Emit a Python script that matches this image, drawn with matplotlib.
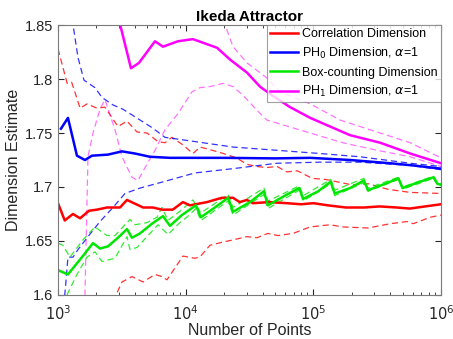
import numpy as np
import matplotlib
matplotlib.use("Agg")
import matplotlib.pyplot as plt
from matplotlib.ticker import LogLocator, NullFormatter

plt.rcParams['font.family'] = ['Liberation Sans', 'DejaVu Sans']

# ---- correlation dimension (red)
corr_n = [1000, 1130, 1310, 1490, 1750, 2020, 2420, 3060, 3470, 4640, 5550, 6520, 7920,
          9520, 10800, 14700, 19200, 23500, 26500, 30200, 33600, 45000, 62000, 80000,
          100000, 130000, 180000, 250000, 330000, 450000, 570000, 750000, 1000000]
corr_mid = [1.685, 1.669, 1.675, 1.671, 1.678, 1.679, 1.681, 1.681, 1.688, 1.681, 1.681,
            1.679, 1.679, 1.686, 1.683, 1.686, 1.690, 1.690, 1.686, 1.688, 1.685, 1.686,
            1.685, 1.684, 1.685, 1.683, 1.681, 1.681, 1.682, 1.681, 1.680, 1.682, 1.684]
corr_hi_n = [1000, 1180, 1280, 1490, 1690, 2020, 2330, 2950, 3470, 4160, 4980, 6080, 6890,
             7800, 9520, 11400, 13000, 18600, 25000, 30200, 36000, 43000, 52000, 62000,
             75000, 98000, 125000, 200000, 270000, 380000, 570000, 1000000]
corr_hi = [1.828, 1.796, 1.797, 1.773, 1.777, 1.773, 1.774, 1.756, 1.761, 1.751, 1.750,
           1.742, 1.741, 1.746, 1.739, 1.731, 1.737, 1.732, 1.727, 1.721, 1.719, 1.718,
           1.719, 1.714, 1.715, 1.708, 1.707, 1.702, 1.703, 1.698, 1.695, 1.694]
corr_lo_n = [2700, 2850, 3170, 3800, 4640, 5750, 6520, 7140, 9520, 11800, 12900, 15500,
             19600, 23500, 30200, 36200, 44100, 52800, 69400, 94600, 135000, 170000,
             268000, 401000, 543000, 606000, 827000, 1000000]
corr_lo = [1.594, 1.600, 1.612, 1.617, 1.612, 1.619, 1.617, 1.614, 1.636, 1.634, 1.635,
           1.646, 1.649, 1.651, 1.654, 1.653, 1.657, 1.655, 1.657, 1.663, 1.665, 1.663,
           1.662, 1.666, 1.668, 1.666, 1.672, 1.674]

# ---- PH0 dimension (blue)
ph0_n = [1055, 1197, 1408, 1627, 1846, 2464, 3172, 4012, 5259, 7539, 10800, 20000, 50000,
         94600, 194000, 400000, 600000, 1000000]
ph0_mid = [1.754, 1.764, 1.729, 1.725, 1.729, 1.730, 1.733, 1.731, 1.728, 1.727, 1.727,
           1.727, 1.7265, 1.727, 1.725, 1.722, 1.720, 1.717]
ph0_hi_n = [1290, 1434, 1598, 1949, 2211, 2697, 3230, 4012, 5452, 6888, 10410, 23500,
            51900, 113000, 232000, 574000, 1000000]
ph0_hi = [1.856, 1.820, 1.799, 1.792, 1.783, 1.776, 1.772, 1.765, 1.755, 1.746, 1.743,
          1.737, 1.734, 1.731, 1.728, 1.722, 1.719]
ph0_lo_n = [1110, 1150, 1197, 1311, 1434, 1718, 2133, 2697, 3348, 4390, 6300, 11800,
            23500, 51900, 113000, 232000, 574000, 1000000]
ph0_lo = [1.590, 1.610, 1.635, 1.635, 1.642, 1.654, 1.668, 1.681, 1.694, 1.699, 1.704,
          1.713, 1.717, 1.722, 1.723, 1.723, 1.720, 1.716]

# ---- box-counting dimension (green)
box_n = [1000, 1197, 1541, 1880, 2133, 2464, 2951, 3471, 3800, 4390, 5452, 6643, 7539,
         9350, 12030, 13160, 16950, 21500, 23500, 31900, 41000, 44100, 60000, 77500,
         83400, 109000, 137000, 147000, 194000, 249000, 268000, 366000, 464000, 500000,
         689000, 874000, 938000, 1000000]
box_mid = [1.623, 1.619, 1.635, 1.648, 1.643, 1.645, 1.653, 1.661, 1.653, 1.657, 1.666,
           1.673, 1.664, 1.674, 1.683, 1.672, 1.681, 1.690, 1.677, 1.686, 1.696, 1.683,
           1.692, 1.699, 1.689, 1.696, 1.705, 1.694, 1.699, 1.706, 1.697, 1.703, 1.708,
           1.699, 1.705, 1.709, 1.703, 1.702]
box_hi_n = [1000, 1094, 1241, 1569, 1949, 2420, 2796, 3471, 3665, 4012, 4982, 5966, 6522,
            7271, 9350, 11390, 13160, 21500, 23500, 41000, 44100, 77500, 83400, 137000,
            147000, 249000, 268000, 464000, 500000, 874000, 938000, 1000000]
box_hi = [1.648, 1.646, 1.635, 1.651, 1.663, 1.655, 1.655, 1.667, 1.670, 1.665, 1.667,
          1.672, 1.681, 1.669, 1.679, 1.688, 1.676, 1.693, 1.681, 1.699, 1.687, 1.701,
          1.692, 1.707, 1.697, 1.708, 1.699, 1.709, 1.700, 1.710, 1.704, 1.703]
box_lo_n = [1176, 1408, 1687, 1949, 2211, 2796, 3471, 3665, 4159, 5259, 6075, 7271, 9020,
            10220, 12030, 13160, 21500, 23500, 41000, 44100, 77500, 83400, 137000,
            147000, 249000, 268000, 464000, 500000, 874000, 938000, 1000000]
box_lo = [1.600, 1.619, 1.635, 1.640, 1.631, 1.634, 1.654, 1.642, 1.644, 1.657, 1.665,
          1.656, 1.667, 1.672, 1.680, 1.669, 1.687, 1.674, 1.693, 1.680, 1.697, 1.687,
          1.703, 1.692, 1.704, 1.696, 1.707, 1.698, 1.708, 1.702, 1.701]

# ---- PH1 dimension (magenta)
ph1_n = [3000, 3730, 4310, 5750, 6640, 8700, 11400, 17600, 22300, 30200, 38200, 47400,
         65700, 94600, 194000, 334000, 574000, 1000000]
ph1_mid = [1.855, 1.810, 1.815, 1.835, 1.830, 1.835, 1.837, 1.829, 1.818, 1.806, 1.793,
           1.785, 1.774, 1.764, 1.748, 1.741, 1.731, 1.722]
ph1_hi_n = [19640, 23500, 30200, 43300, 54800, 94600, 162000, 334000, 574000, 1000000]
ph1_hi = [1.855, 1.830, 1.815, 1.801, 1.788, 1.777, 1.762, 1.750, 1.741, 1.727]
ph1_lo_n = [1620, 1718, 1880, 2133, 2334, 2796, 3172, 3800, 4235, 4806, 5755, 6888, 8700,
            11190, 12930, 15500, 19640, 23500, 28100, 36200, 43300, 94600, 170000,
            316000, 574000, 1000000]
ph1_lo = [1.590, 1.728, 1.750, 1.772, 1.781, 1.753, 1.728, 1.709, 1.706, 1.718, 1.734,
          1.753, 1.768, 1.788, 1.792, 1.793, 1.796, 1.793, 1.785, 1.771, 1.762, 1.750,
          1.741, 1.734, 1.728, 1.719]

y_ticks = [1.6, 1.65, 1.7, 1.75, 1.8, 1.85]
y_labels = ['1.6', '1.65', '1.7', '1.75', '1.8', '1.85']
x_ticks = [1e3, 1e4, 1e5, 1e6]
x_labels = ['$10^3$', '$10^4$', '$10^5$', '$10^6$']

RED, BLUE, GREEN, MAG = '#ff0000', '#0000ff', '#00e600', '#ff00ff'

fig = plt.figure(figsize=(4.53, 3.39), dpi=100)
ax = fig.add_axes([0.128, 0.130, 0.8455, 0.796])

dash = dict(lw=0.9, ls=(0, (5, 3)))
ax.plot(corr_hi_n, corr_hi, color=RED, alpha=0.8, **dash)
ax.plot(corr_lo_n, corr_lo, color=RED, alpha=0.8, **dash)
ax.plot(ph0_hi_n, ph0_hi, color=BLUE, alpha=0.8, **dash)
ax.plot(ph0_lo_n, ph0_lo, color=BLUE, alpha=0.8, **dash)
ax.plot(box_hi_n, box_hi, color=GREEN, alpha=0.8, **dash)
ax.plot(box_lo_n, box_lo, color=GREEN, alpha=0.8, **dash)
ax.plot(ph1_hi_n, ph1_hi, color=MAG, alpha=0.55, **dash)
ax.plot(ph1_lo_n, ph1_lo, color=MAG, alpha=0.55, **dash)

ax.plot(corr_n, corr_mid, color=RED, lw=1.8, label='Correlation Dimension')
ax.plot(ph0_n, ph0_mid, color=BLUE, lw=1.8, label=r'PH$_0$ Dimension, $\alpha$=1')
ax.plot(box_n, box_mid, color=GREEN, lw=1.8, label='Box-counting Dimension')
ax.plot(ph1_n, ph1_mid, color=MAG, lw=1.8, label=r'PH$_1$ Dimension, $\alpha$=1')

ax.set_xscale('log')
ax.set_xlim(1e3, 1e6)
ax.set_ylim(1.6, 1.85)
ax.set_xticks(x_ticks)
ax.set_xticklabels(x_labels)
ax.xaxis.set_minor_locator(LogLocator(base=10, subs=np.arange(2, 10)))
ax.xaxis.set_minor_formatter(NullFormatter())
ax.set_yticks(y_ticks)
ax.set_yticklabels(y_labels)

axcol = '#262626'
ax.tick_params(which='both', direction='in', top=True, right=True, colors=axcol,
               labelcolor='#262626', labelsize=10.5)
ax.tick_params(which='major', length=4)
ax.tick_params(which='minor', length=2)
ax.tick_params(axis='x', which='major', pad=7)
for s in ax.spines.values():
    s.set_color('#7a7a7a')
    s.set_linewidth(0.8)

ax.set_title('Ikeda Attractor', fontsize=11, fontweight='bold', pad=3)
ax.set_xlabel('Number of Points', fontsize=11.5, color='#262626', labelpad=0)
ax.set_ylabel('Dimension Estimate', fontsize=11.5, color='#262626', labelpad=3)

leg = ax.legend(loc='upper right', fontsize=9, frameon=True, fancybox=False,
                borderaxespad=0, handlelength=2.3, handletextpad=0.3,
                borderpad=0.25, labelspacing=0.45)
leg.get_frame().set_edgecolor('#8a8a8a')
leg.get_frame().set_linewidth(0.8)

fig.savefig('out.png', dpi=100)
